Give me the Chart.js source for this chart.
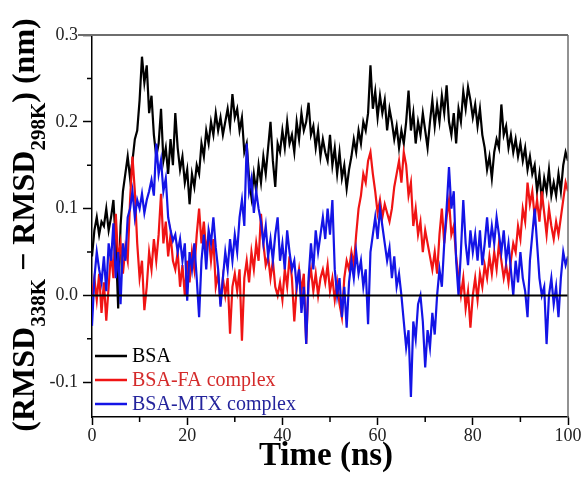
<!DOCTYPE html>
<html>
<head>
<meta charset="utf-8">
<script src="https://cdn.jsdelivr.net/npm/chart.js@4"></script>
<style>
  html, body { margin: 0; padding: 0; background: #fff; }
  canvas { display: block; }
</style>
</head>
<body>
<canvas id="chart" width="583" height="477"></canvas>
<script>
// sampled every 0.5 ns, 0 .. 100 ns
const stepNs = 0.5;

const seriesNames = ['BSA', 'BSA-FA complex', 'BSA-MTX complex'];

const bsa = [
  0.045, 0.075, 0.09, 0.07, 0.085, 0.08, 0.10, 0.075, 0.09, 0.11, 0.06, -0.015, 0.08, 0.12, 0.14, 0.16, 0.135, 0.155, 0.18, 0.19,
  0.225, 0.275, 0.245, 0.265, 0.21, 0.23, 0.185, 0.16, 0.175, 0.215, 0.155, 0.17, 0.14, 0.18, 0.15, 0.21, 0.17, 0.145, 0.16, 0.13,
  0.145, 0.105, 0.14, 0.125, 0.15, 0.14, 0.175, 0.16, 0.19, 0.175, 0.20, 0.185, 0.21, 0.19, 0.205, 0.185, 0.20, 0.215, 0.195, 0.232,
  0.205, 0.215, 0.19, 0.205, 0.165, 0.175, 0.135, 0.113, 0.14, 0.12, 0.15, 0.13, 0.16, 0.14, 0.17, 0.2, 0.155, 0.125, 0.175, 0.165,
  0.19, 0.17, 0.2, 0.175, 0.185, 0.165, 0.2, 0.18, 0.21, 0.19, 0.2, 0.222, 0.185, 0.195, 0.17, 0.19, 0.16, 0.18, 0.165, 0.155,
  0.185, 0.15, 0.17, 0.14, 0.165, 0.135, 0.15, 0.123, 0.145, 0.16, 0.18, 0.165, 0.19, 0.175, 0.2, 0.19, 0.21, 0.265, 0.215, 0.235,
  0.205, 0.23, 0.21, 0.225, 0.19, 0.215, 0.2, 0.18, 0.195, 0.17, 0.19, 0.175, 0.2, 0.236, 0.19, 0.21, 0.175, 0.2, 0.185, 0.21,
  0.19, 0.17, 0.2, 0.225, 0.195, 0.22, 0.2, 0.23, 0.21, 0.242, 0.2, 0.185, 0.21, 0.175, 0.215, 0.2, 0.235, 0.215, 0.24, 0.225,
  0.205, 0.22, 0.195, 0.215, 0.185, 0.17, 0.145, 0.16, 0.135, 0.165, 0.18, 0.17, 0.22, 0.185, 0.195, 0.17, 0.185, 0.165, 0.18, 0.16,
  0.175, 0.155, 0.17, 0.145, 0.16, 0.14, 0.15, 0.12, 0.14, 0.11, 0.135, 0.12, 0.145, 0.115, 0.13, 0.115, 0.14, 0.12, 0.15, 0.165,
  0.155
];

const bsaFa = [
  0.0, 0.02, -0.005, 0.025, -0.02, 0.015, -0.029, 0.01, 0.05, 0.02, 0.094, 0.04, 0.06, 0.025, 0.055, 0.04, 0.11, 0.16, 0.12, 0.06,
  0.02, 0.04, -0.017, 0.01, 0.05, 0.03, 0.065, 0.04, 0.07, 0.117, 0.06, 0.085, 0.045, 0.07, 0.04, 0.03, 0.05, 0.01, 0.035, 0.0,
  0.04, 0.015, 0.05, 0.03, 0.07, 0.1, 0.06, 0.085, 0.05, 0.07, 0.04, 0.065, 0.01, 0.025, -0.01, 0.02, 0.0, 0.02, -0.044, 0.01,
  0.025, 0.005, 0.03, -0.052, 0.02, 0.04, 0.015, 0.05, 0.03, 0.06, 0.04, 0.094, 0.06, 0.035, 0.045, 0.02, 0.04, 0.01, 0.0, 0.015,
  -0.005, 0.03, 0.01, 0.045, 0.02, -0.03, 0.01, 0.03, 0.005, 0.025, -0.056, 0.015, 0.03, 0.005, 0.025, 0.0, 0.02, 0.03, 0.015, 0.035,
  0.005, 0.02, -0.005, 0.015, -0.01, -0.025, 0.02, 0.04, 0.03, 0.05, 0.035, 0.07, 0.1, 0.115, 0.14, 0.13, 0.155, 0.165, 0.14, 0.12,
  0.095, 0.11, 0.09, 0.105, 0.095, 0.085, 0.1, 0.125, 0.14, 0.155, 0.13, 0.165, 0.15, 0.115, 0.13, 0.08, 0.1, 0.07, 0.085, 0.05,
  0.075, 0.06, 0.045, 0.03, 0.05, 0.025, 0.07, 0.1, 0.06, 0.09, 0.11, 0.07, 0.08, 0.045, 0.02, 0.0, 0.02, -0.015, 0.005, -0.037,
  0.0, 0.02, -0.005, 0.025, 0.01, 0.035, 0.02, 0.045, 0.025, 0.05, 0.03, 0.06, 0.04, 0.02, 0.035, 0.015, 0.04, 0.06, 0.05, 0.08,
  0.065, 0.1, 0.085, 0.13, 0.105, 0.12, 0.09, 0.11, 0.085, 0.12, 0.095, 0.07, 0.1, 0.08, 0.065, 0.085, 0.07, 0.09, 0.11, 0.13,
  0.12
];

const bsaMtx = [
  -0.035, 0.02, 0.05, 0.03, 0.015, 0.045, 0.005, 0.06, 0.04, 0.083, 0.02, 0.05, -0.01, 0.06, 0.04, 0.09, 0.1, 0.12, 0.09, 0.11,
  0.1, 0.117, 0.095, 0.11, 0.12, 0.133, 0.115, 0.175, 0.14, 0.156, 0.12, 0.135, 0.09, 0.075, 0.063, 0.07, 0.05, 0.065, 0.04, 0.06,
  -0.006, 0.05, 0.03, 0.06, 0.02, -0.025, 0.04, 0.07, 0.03, 0.075, 0.06, 0.09, 0.055, 0.03, -0.013, 0.02, 0.05, 0.03, 0.065, 0.04,
  0.07, 0.05, 0.09, 0.11, 0.08, 0.175, 0.12, 0.135, 0.095, 0.12, 0.1, 0.085, 0.06, 0.08, 0.045, 0.065, 0.04, 0.07, 0.09, 0.04,
  0.06, 0.03, 0.075, 0.05, 0.03, 0.04, 0.01, 0.03, -0.02, 0.01, -0.056, 0.02, 0.06, 0.03, 0.075, 0.05, 0.07, 0.09, 0.065, 0.1,
  0.07, 0.11, 0.03, 0.0, 0.02, -0.025, 0.01, -0.037, 0.015, 0.04, 0.02, 0.05, 0.025, 0.04, 0.01, 0.03, -0.033, 0.05, 0.07, 0.09,
  0.065, 0.1, 0.08, 0.06, 0.04, 0.055, 0.02, 0.045, 0.01, 0.025, 0.0, -0.03, -0.06, -0.04, -0.117, -0.03, -0.05, -0.01, 0.0, -0.03,
  -0.083, -0.04, -0.06, -0.02, -0.045, 0.0, 0.03, 0.01, 0.06, 0.1, 0.148, 0.1, 0.12, 0.04, 0.0, 0.05, 0.11, 0.06, 0.035, 0.075,
  0.05, 0.07, 0.04, 0.075, 0.035, 0.06, 0.09, 0.055, 0.08, 0.06, 0.09, 0.07, 0.05, 0.075, 0.04, 0.06, 0.03, 0.0, 0.04, 0.015,
  0.05, 0.02, 0.005, -0.025, 0.04, 0.07, 0.1, 0.06, 0.02, 0.0, 0.01, -0.056, 0.0, 0.02, -0.01, 0.01, -0.025, 0.02, 0.05, 0.035,
  0.045
];

const xTicks = [0, 20, 40, 60, 80, 100];
const xMinorTicks = [10, 30, 50, 70, 90];
const yTicks = [-0.1, 0.0, 0.1, 0.2, 0.3];
const yMinorTicks = [-0.05, 0.05, 0.15, 0.25];

const lineColors = ['#000000', '#f01414', '#1414e6'];
const legendTextColors = ['#000000', '#d42a2a', '#24249c'];

const serif = "'Liberation Serif', 'Times New Roman', serif";

function toPoints(values) {
  return values.map((v, i) => ({ x: i * stepNs, y: v }));
}

// frame, zero line, minor ticks, axis titles and the legend box
const decorPlugin = {
  id: 'decor',
  afterDatasetsDraw(chart) {
    const ctx = chart.ctx;
    const area = chart.chartArea;
    const y0 = chart.scales.y.getPixelForValue(0);
    ctx.save();
    ctx.strokeStyle = '#000';
    ctx.lineWidth = 2;
    ctx.beginPath();
    ctx.moveTo(area.left, y0);
    ctx.lineTo(area.right, y0);
    ctx.stroke();
    ctx.restore();
  },
  afterDraw(chart) {
    const ctx = chart.ctx;
    const area = chart.chartArea;
    const xs = chart.scales.x;
    const ys = chart.scales.y;
    ctx.save();

    // top and right edges
    ctx.strokeStyle = '#6e6e6e';
    ctx.lineWidth = 2;
    ctx.beginPath();
    ctx.moveTo(area.left - 14, area.top);
    ctx.lineTo(area.right, area.top);
    ctx.stroke();
    ctx.lineWidth = 1.5;
    ctx.beginPath();
    ctx.moveTo(area.right, area.top);
    ctx.lineTo(area.right, area.bottom);
    ctx.stroke();

    // minor ticks
    ctx.strokeStyle = '#000';
    ctx.lineWidth = 1.5;
    ctx.beginPath();
    xMinorTicks.forEach(v => {
      const px = xs.getPixelForValue(v);
      ctx.moveTo(px, area.bottom);
      ctx.lineTo(px, area.bottom + 5);
    });
    yMinorTicks.forEach(v => {
      const py = ys.getPixelForValue(v);
      ctx.moveTo(area.left, py);
      ctx.lineTo(area.left - 5, py);
    });
    ctx.stroke();

    // x title
    ctx.fillStyle = '#000';
    ctx.font = 'bold 33px ' + serif;
    ctx.textAlign = 'center';
    ctx.textBaseline = 'alphabetic';
    ctx.fillText('Time (ns)', 326, 465);

    // y title with subscripts
    const parts = [
      ['(RMSD', false], ['338K', true], [' \u2212 RMSD', false], ['298K', true], [') (nm)', false]
    ];
    const bigFont = 'bold 32px ' + serif;
    const subFont = 'bold 21px ' + serif;
    let total = 0;
    parts.forEach(p => {
      ctx.font = p[1] ? subFont : bigFont;
      total += ctx.measureText(p[0]).width;
    });
    ctx.translate(34, 225);
    ctx.rotate(-Math.PI / 2);
    ctx.textAlign = 'left';
    let cx = -total / 2;
    parts.forEach(p => {
      ctx.font = p[1] ? subFont : bigFont;
      ctx.fillText(p[0], cx, p[1] ? 11 : 0);
      cx += ctx.measureText(p[0]).width;
    });
    ctx.setTransform(1, 0, 0, 1, 0, 0);

    // legend
    const rows = [356, 380, 404];
    ctx.font = '20px ' + serif;
    ctx.textBaseline = 'middle';
    seriesNames.forEach((name, i) => {
      ctx.strokeStyle = lineColors[i];
      ctx.lineWidth = 2.5;
      ctx.beginPath();
      ctx.moveTo(95, rows[i]);
      ctx.lineTo(127, rows[i]);
      ctx.stroke();
      ctx.fillStyle = legendTextColors[i];
      ctx.fillText(name, 132, rows[i] + 1);
    });
    ctx.restore();
  }
};

const seriesValues = [bsa, bsaFa, bsaMtx];

new Chart(document.getElementById('chart'), {
  type: 'line',
  data: {
    datasets: seriesNames.map((name, i) => ({
      label: name,
      data: toPoints(seriesValues[i]),
      borderColor: lineColors[i],
      borderWidth: 2.2,
      pointRadius: 0,
      tension: 0,
      fill: false,
      order: 3 - i
    }))
  },
  options: {
    responsive: false,
    animation: false,
    devicePixelRatio: 1,
    layout: { padding: { top: 35, right: 15, left: 0, bottom: 0 } },
    plugins: {
      legend: { display: false },
      tooltip: { enabled: false }
    },
    scales: {
      x: {
        type: 'linear',
        min: 0,
        max: 100,
        afterBuildTicks: s => { s.ticks = xTicks.map(v => ({ value: v })); },
        afterFit: s => { s.height = 60; },
        grid: { drawOnChartArea: false, tickLength: 8, tickColor: '#000', tickWidth: 1.5 },
        border: { display: true, color: '#000', width: 1.5 },
        ticks: {
          font: { family: serif, size: 18 },
          color: '#222',
          padding: 0,
          maxRotation: 0,
          callback: v => String(v)
        }
      },
      y: {
        type: 'linear',
        min: -0.14,
        max: 0.3,
        afterBuildTicks: s => { s.ticks = yTicks.map(v => ({ value: v })); },
        afterFit: s => { s.width = 92; },
        grid: { drawOnChartArea: false, tickLength: 9, tickColor: '#000', tickWidth: 1.5 },
        border: { display: true, color: '#000', width: 1.5 },
        ticks: {
          font: { family: serif, size: 18 },
          color: '#222',
          padding: 5,
          callback: v => v.toFixed(1)
        }
      }
    }
  },
  plugins: [decorPlugin]
});
</script>
</body>
</html>
